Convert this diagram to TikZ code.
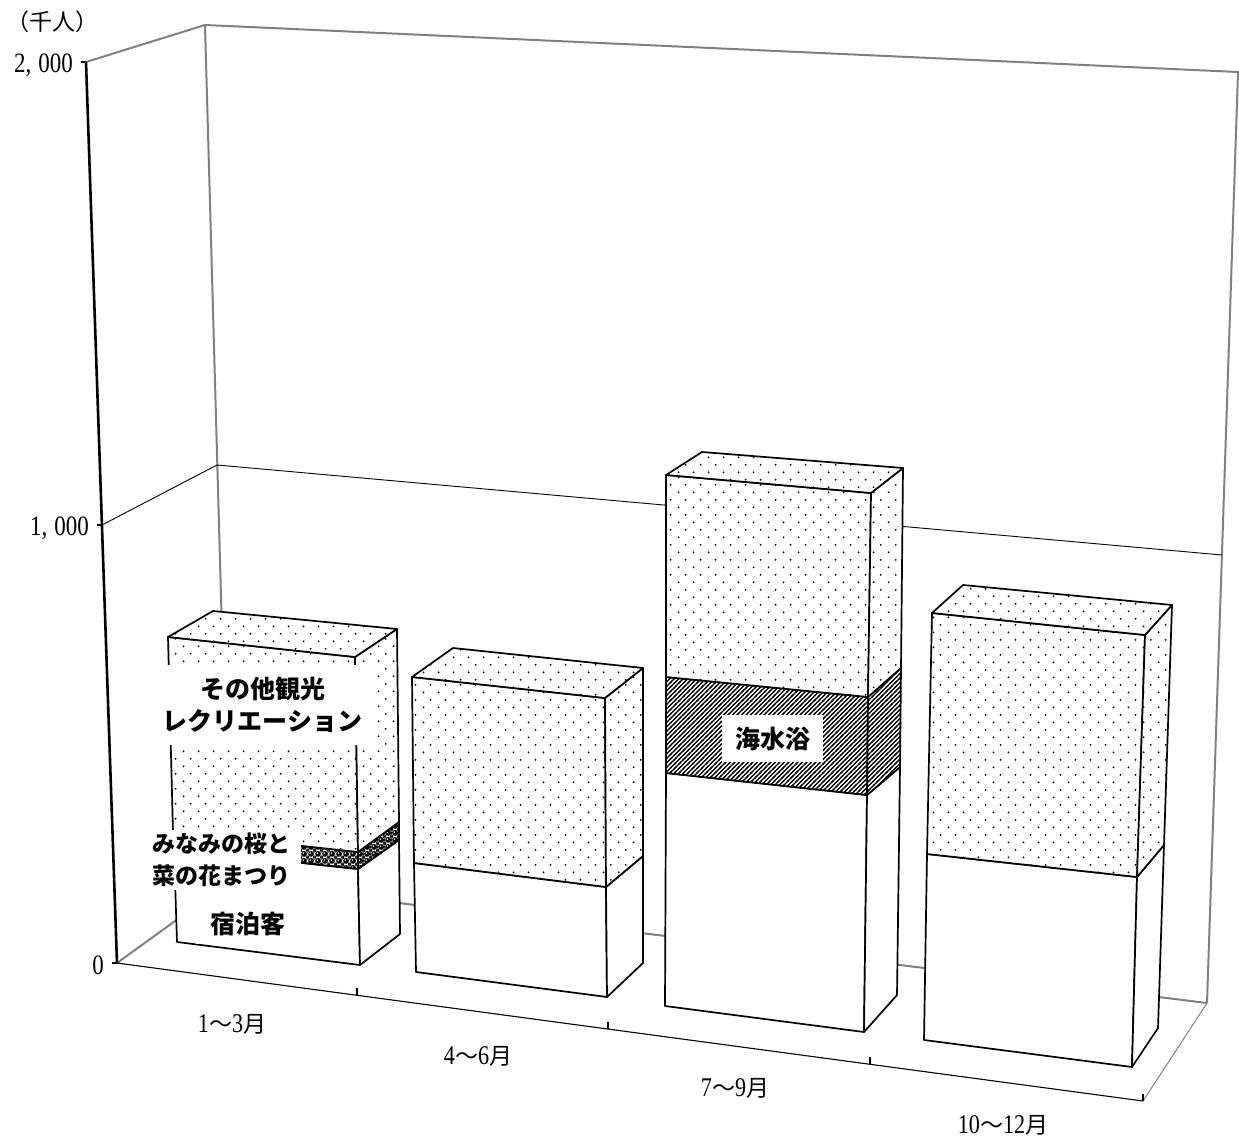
\documentclass[tikz,border=0pt]{standalone}
\usepackage{fontspec}
\setmainfont{Liberation Serif}
\newfontfamily\jpfont{Noto Sans CJK JP}
\newfontfamily\digitfont{Liberation Serif}[FakeStretch=0.82]
\usetikzlibrary{patterns}

\pgfdeclarepatternformonly{sparsedots}{\pgfqpoint{0pt}{0pt}}{\pgfqpoint{15pt}{15.4pt}}{\pgfqpoint{15pt}{15.4pt}}{%
  \pgfpathcircle{\pgfqpoint{3.75pt}{3.85pt}}{1.05pt}%
  \pgfpathcircle{\pgfqpoint{11.25pt}{11.55pt}}{1.05pt}%
  \pgfusepath{fill}}
\pgfdeclarepatternformonly{seahatch}{\pgfqpoint{-1.5pt}{-1.5pt}}{\pgfqpoint{6pt}{6pt}}{\pgfqpoint{4.5pt}{4.5pt}}{%
  \pgfsetlinewidth{1.4pt}%
  \pgfpathmoveto{\pgfqpoint{-1.5pt}{-1.5pt}}%
  \pgfpathlineto{\pgfqpoint{6pt}{6pt}}%
  \pgfusepath{stroke}}
\pgfdeclarepatterninherentlycolored{beads}{\pgfqpoint{0pt}{0pt}}{\pgfqpoint{7pt}{7pt}}{\pgfqpoint{7pt}{7pt}}{%
  \pgfsetfillcolor{black}%
  \pgfpathcircle{\pgfqpoint{3.5pt}{3.5pt}}{3.3pt}%
  \pgfpathcircle{\pgfqpoint{0pt}{0pt}}{1.5pt}%
  \pgfpathcircle{\pgfqpoint{7pt}{0pt}}{1.5pt}%
  \pgfpathcircle{\pgfqpoint{0pt}{7pt}}{1.5pt}%
  \pgfpathcircle{\pgfqpoint{7pt}{7pt}}{1.5pt}%
  \pgfusepath{fill}%
  \pgfsetfillcolor{white}%
  \pgfpathcircle{\pgfqpoint{2.7pt}{4.3pt}}{1pt}%
  \pgfusepath{fill}}

\newcommand{\qtr}[2]{{\digitfont\fontsize{27pt}{30pt}\selectfont #1}{\jpfont 〜}{\digitfont\fontsize{27pt}{30pt}\selectfont #2}{\jpfont 月}}

\begin{document}
\begin{tikzpicture}[x=1pt, y=-1pt,
  wall/.style={draw=black!50, line width=2pt},
  thinwall/.style={draw=black!50, line width=1pt},
  gridline/.style={line width=0.9pt},
  plainface/.style={fill=white, draw, line width=1.7pt, line join=round},
  dotface/.style={preaction={fill=white}, pattern=sparsedots, pattern color=black, draw, line width=1.7pt, line join=round},
  hatchface/.style={preaction={fill=white}, pattern=seahatch, draw, line width=1.7pt, line join=round},
  beadface/.style={preaction={fill=white}, pattern=beads, draw, line width=1.7pt, line join=round},
  tag/.style={fill=white, inner sep=0pt, align=center, font=\jpfont\bfseries\fontsize{25pt}{32.5pt}\selectfont},
  axislabel/.style={inner sep=0pt, font=\fontsize{23pt}{26pt}\selectfont},
  valuelabel/.style={inner sep=0pt, anchor=east, font=\digitfont\fontsize{28pt}{30pt}\selectfont}]
\useasboundingbox (0,0) rectangle (1239,1137);

\draw[wall] (86,62) -- (205,25) -- (1238,72) -- (1207,1003);
\draw[wall] (205,25) -- (229,882);
\draw[wall] (117,963) -- (229,882) -- (1207,1003);
\draw[thinwall] (1207,1003) -- (1143,1101);
\draw[gridline] (102,525) -- (217,465) -- (1222,555);
\draw[line width=1.1pt] (117,963) -- (1143,1101);
\foreach \x/\y in {357/995,608/1029,870/1064,1143/1101}
  \draw[line width=1.1pt] (\x,\y) -- ++(0,-7);
\draw[line width=2.6pt] (86,62) -- (117,963);
\foreach \x/\y in {86/62,102/525,117/963}
  \draw[line width=1.4pt] (\x,\y) -- ++(-5,0);

\node[axislabel] (unit) at (52,22) {\jpfont （千人）};
\node[valuelabel] (y2000) at (73,65) {2,\kern.25em000};
\node[valuelabel] (y1000) at (89,528) {1,\kern.25em000};
\node[valuelabel] (y0) at (104,965) {0};

\filldraw[plainface] (177,942) -- (360,965) -- (358,869) -- (174,849) -- cycle;
\filldraw[plainface] (360,965) -- (400,934) -- (399,840) -- (358,869) -- cycle;
\filldraw[beadface] (174,849) -- (358,869) -- (358,852) -- (173,832) -- cycle;
\filldraw[beadface] (358,869) -- (399,840) -- (399,822) -- (358,852) -- cycle;
\filldraw[dotface] (173,832) -- (358,852) -- (355,657) -- (168,637) -- cycle;
\filldraw[dotface] (358,852) -- (399,822) -- (397,629) -- (355,657) -- cycle;
\filldraw[dotface] (168,637) -- (355,657) -- (397,629) -- (213,611) -- cycle;

\filldraw[plainface] (416,972) -- (607,997) -- (606,887) -- (414,863) -- cycle;
\filldraw[plainface] (607,997) -- (643,963) -- (643,856) -- (606,887) -- cycle;
\filldraw[dotface] (414,863) -- (606,887) -- (605,698) -- (412,677) -- cycle;
\filldraw[dotface] (606,887) -- (643,856) -- (643,668) -- (605,698) -- cycle;
\filldraw[dotface] (412,677) -- (605,698) -- (643,668) -- (453,648) -- cycle;

\filldraw[plainface] (665,1006) -- (864,1032) -- (867,795) -- (666,773) -- cycle;
\filldraw[plainface] (864,1032) -- (897,995) -- (900,767) -- (867,795) -- cycle;
\filldraw[hatchface] (666,773) -- (867,795) -- (868,697) -- (666,677) -- cycle;
\filldraw[hatchface] (867,795) -- (900,767) -- (901,668) -- (868,697) -- cycle;
\filldraw[dotface] (666,677) -- (868,697) -- (871,493) -- (666,475) -- cycle;
\filldraw[dotface] (868,697) -- (901,668) -- (903,468) -- (871,493) -- cycle;
\filldraw[dotface] (666,475) -- (871,493) -- (903,468) -- (702,452) -- cycle;

\filldraw[plainface] (924,1040) -- (1132,1067) -- (1137,877) -- (927,854) -- cycle;
\filldraw[plainface] (1132,1067) -- (1158,1028) -- (1164,845) -- (1137,877) -- cycle;
\filldraw[dotface] (927,854) -- (1137,877) -- (1145,635) -- (932,613) -- cycle;
\filldraw[dotface] (1137,877) -- (1164,845) -- (1172,605) -- (1145,635) -- cycle;
\filldraw[dotface] (932,613) -- (1145,635) -- (1172,605) -- (963,585) -- cycle;

\node[tag, minimum width=217pt, minimum height=80pt] (other) at (268.5,705) {\hspace*{-12pt}その他観光\\\hspace*{-12pt}レクリエーション};
\node[tag, font=\jpfont\bfseries\fontsize{23pt}{32pt}\selectfont, minimum width=159pt, minimum height=60pt] (fest) at (221,860) {みなみの桜と\\菜の花まつり};
\node[tag, minimum width=104pt, minimum height=39pt] (stay) at (248,924.5) {宿泊客};
\node[tag, minimum width=101pt, minimum height=47pt] (sea) at (772.5,738.5) {海水浴};

\node[axislabel] (q1) at (232,1024) {\qtr{1}{3}};
\node[axislabel] (q2) at (478,1056) {\qtr{4}{6}};
\node[axislabel] (q3) at (735,1088) {\qtr{7}{9}};
\node[axislabel] (q4) at (1003,1125) {\qtr{10}{12}};
\end{tikzpicture}
\end{document}
